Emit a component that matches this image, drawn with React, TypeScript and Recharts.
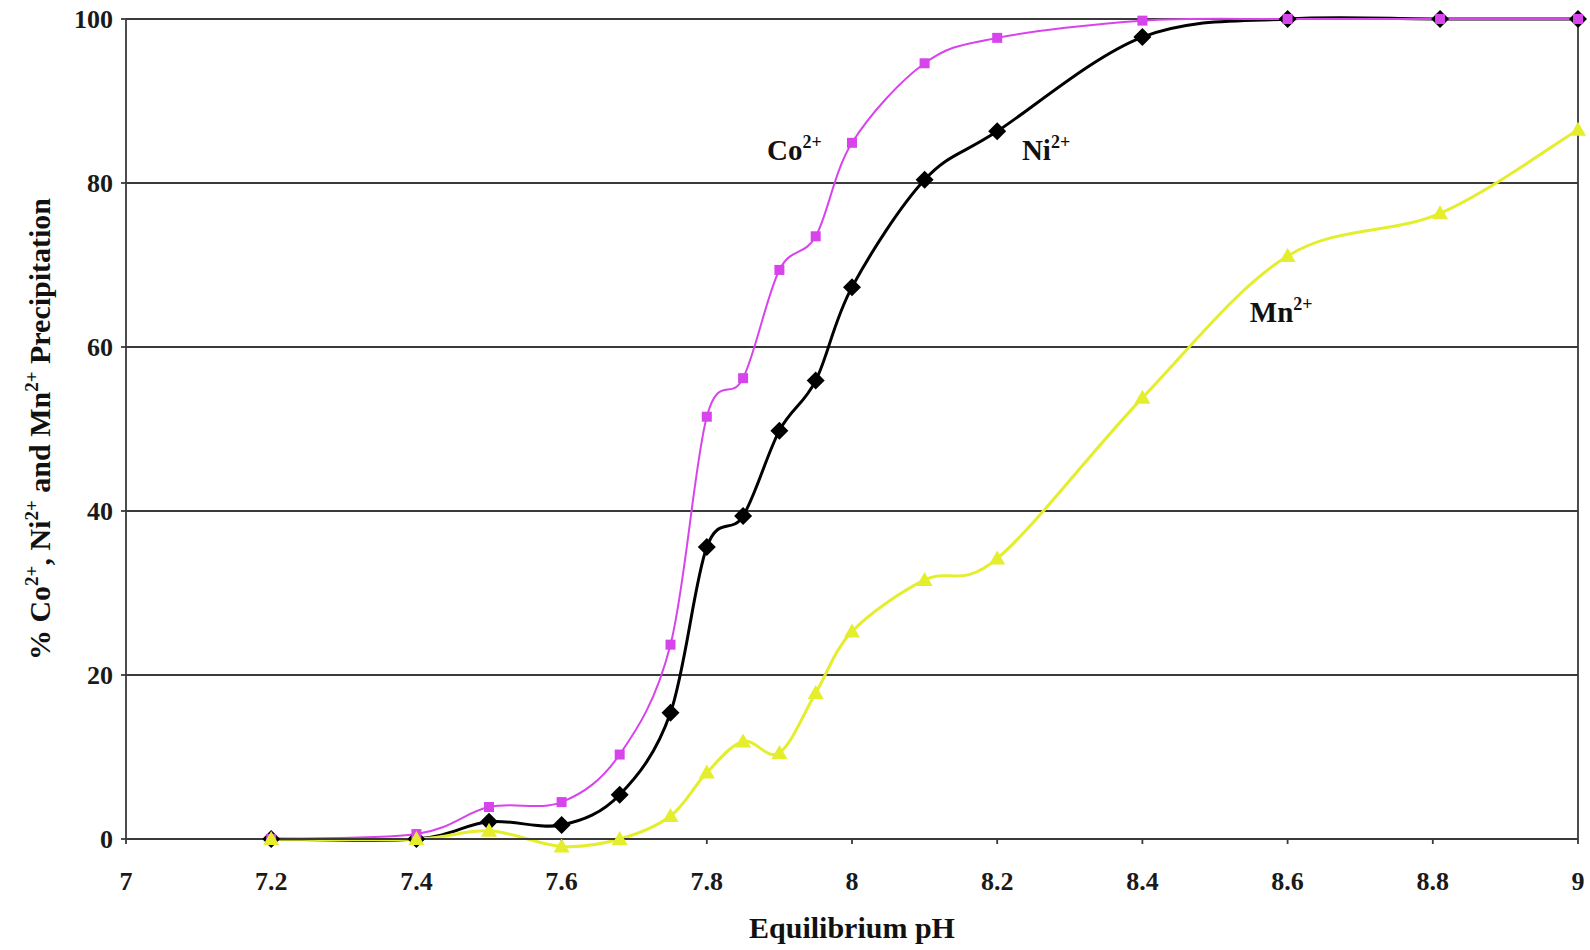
import React from 'react';
import {
  CartesianGrid,
  Line,
  LineChart,
  ReferenceDot,
  ReferenceLine,
  XAxis,
  YAxis,
} from 'recharts';

// equilibrium pH of each sample
const phValues = [7.2, 7.4, 7.5, 7.6, 7.68, 7.75, 7.8, 7.85, 7.9, 7.95, 8.0, 8.1, 8.2, 8.4, 8.6, 8.81, 9.0];
// % precipitation
const coValues = [0, 0.6, 3.9, 4.5, 10.3, 23.7, 51.5, 56.2, 69.4, 73.5, 84.9, 94.6, 97.7, 99.8, 100, 100, 100];
const niValues = [0, 0, 2.1, 1.7, 5.4, 15.4, 35.6, 39.4, 49.8, 55.9, 67.3, 80.4, 86.3, 97.8, 100, 100, 100];
const mnValues = [0, 0, 1.0, -0.9, 0, 2.8, 8.1, 11.9, 10.5, 17.8, 25.3, 31.6, 34.2, 53.8, 71.1, 76.3, 86.5];

const xTicks = [7, 7.2, 7.4, 7.6, 7.8, 8, 8.2, 8.4, 8.6, 8.8, 9];
const yTicks = [0, 20, 40, 60, 80, 100];

const data = phValues.map((ph, i) => ({
  ph,
  co: coValues[i],
  ni: niValues[i],
  mn: mnValues[i],
}));

const CO_COLOR = '#d844ec';
const NI_COLOR = '#000000';
const MN_COLOR = '#e4ee2c';
const AXIS_COLOR = '#3a3a3a';
const FONT = '"Liberation Serif", "Times New Roman", serif';

// smoothed line like the spreadsheet's "smoothed line" option
const smoothCurve = (context: any) => {
  let pts: number[][] = [];
  return {
    areaStart() {},
    areaEnd() {},
    lineStart() {
      pts = [];
    },
    point(x: number, y: number) {
      pts.push([+x, +y]);
    },
    lineEnd() {
      const n = pts.length;
      if (!n) return;
      context.moveTo(pts[0][0], pts[0][1]);
      for (let i = 0; i < n - 1; i++) {
        const p0 = pts[Math.max(i - 1, 0)];
        const p1 = pts[i];
        const p2 = pts[i + 1];
        const p3 = pts[Math.min(i + 2, n - 1)];
        context.bezierCurveTo(
          p1[0] + (p2[0] - p0[0]) / 6,
          p1[1] + (p2[1] - p0[1]) / 6,
          p2[0] - (p3[0] - p1[0]) / 6,
          p2[1] - (p3[1] - p1[1]) / 6,
          p2[0],
          p2[1],
        );
      }
    },
  };
};

const SquareDot = (props: any) => {
  const { cx, cy, index } = props;
  if (cx == null || cy == null) return null;
  return <rect key={`co-${index}`} x={cx - 5} y={cy - 5} width={10} height={10} fill={CO_COLOR} />;
};

const DiamondDot = (props: any) => {
  const { cx, cy, index } = props;
  if (cx == null || cy == null) return null;
  const r = 9;
  return (
    <path
      key={`ni-${index}`}
      d={`M${cx},${cy - r}L${cx + r},${cy}L${cx},${cy + r}L${cx - r},${cy}Z`}
      fill={NI_COLOR}
    />
  );
};

const TriangleDot = (props: any) => {
  const { cx, cy, index } = props;
  if (cx == null || cy == null) return null;
  return (
    <path
      key={`mn-${index}`}
      d={`M${cx},${cy - 8}L${cx + 8},${cy + 6}L${cx - 8},${cy + 6}Z`}
      fill={MN_COLOR}
    />
  );
};

const IonLabel = ({ viewBox, ion }: any) => {
  if (!viewBox) return null;
  return (
    <text x={viewBox.x} y={viewBox.y} fontFamily={FONT} fontWeight="bold" fontSize={29} fill="#111">
      {ion}
      <tspan dy={-12} fontSize={18}>2+</tspan>
    </text>
  );
};

const YTitle = ({ viewBox }: any) => {
  const cy = viewBox ? viewBox.y + viewBox.height / 2 : 429;
  const x = 50;
  return (
    <text
      x={x}
      y={cy}
      transform={`rotate(-90 ${x} ${cy})`}
      textAnchor="middle"
      fontFamily={FONT}
      fontWeight="bold"
      fontSize={30}
      fill="#111"
    >
      <tspan>% Co</tspan>
      <tspan dy={-12} fontSize={19}>2+</tspan>
      <tspan dy={12}>, Ni</tspan>
      <tspan dy={-12} fontSize={19}>2+</tspan>
      <tspan dy={12}> and Mn</tspan>
      <tspan dy={-12} fontSize={19}>2+</tspan>
      <tspan dy={12}> Precipitation</tspan>
    </text>
  );
};

const XTitle = ({ viewBox }: any) => {
  if (!viewBox) return null;
  return (
    <text
      x={viewBox.x + viewBox.width / 2}
      y={viewBox.y + 99}
      textAnchor="middle"
      fontFamily={FONT}
      fontWeight="bold"
      fontSize={30}
      fill="#111"
    >
      Equilibrium pH
    </text>
  );
};

const tickStyle = { fontFamily: FONT, fontWeight: 'bold', fontSize: 26, fill: '#1a1a1a' };

export default function App() {
  return (
    <div style={{ position: 'absolute', left: 0, top: 0, background: '#fff' }}>
      <style>{'.recharts-line, .recharts-line-curve, .recharts-line-dots { clip-path: none !important; }'}</style>
      <LineChart
        width={1590}
        height={950}
        data={data}
        margin={{ top: 19, right: 12, bottom: 0, left: 0 }}
      >
        <CartesianGrid horizontal vertical={false} stroke={AXIS_COLOR} strokeWidth={1.8} />
        <XAxis
          dataKey="ph"
          type="number"
          domain={[7, 9]}
          ticks={xTicks}
          allowDataOverflow
          height={111}
          tick={tickStyle}
          tickSize={5}
          tickMargin={28}
          stroke={AXIS_COLOR}
          strokeWidth={1.8}
          label={(p: any) => <XTitle {...p} />}
        />
        <YAxis
          type="number"
          domain={[0, 100]}
          ticks={yTicks}
          allowDataOverflow
          width={126}
          tick={tickStyle}
          tickSize={5}
          tickMargin={8}
          stroke={AXIS_COLOR}
          strokeWidth={1.8}
          label={(p: any) => <YTitle {...p} />}
        />
        <ReferenceLine x={9} stroke={AXIS_COLOR} strokeWidth={1.8} />
        <Line
          dataKey="ni"
          type={smoothCurve as any}
          stroke={NI_COLOR}
          strokeWidth={3}
          dot={DiamondDot}
          activeDot={false}
          isAnimationActive={false}
        />
        <Line
          dataKey="co"
          type={smoothCurve as any}
          stroke={CO_COLOR}
          strokeWidth={2}
          dot={SquareDot}
          activeDot={false}
          isAnimationActive={false}
        />
        <Line
          dataKey="mn"
          type={smoothCurve as any}
          stroke={MN_COLOR}
          strokeWidth={3}
          dot={TriangleDot}
          activeDot={false}
          isAnimationActive={false}
        />
        <ReferenceDot x={7.883} y={82.8} r={0} fill="none" stroke="none" label={(p: any) => <IonLabel {...p} ion="Co" />} />
        <ReferenceDot x={8.234} y={82.8} r={0} fill="none" stroke="none" label={(p: any) => <IonLabel {...p} ion="Ni" />} />
        <ReferenceDot x={8.548} y={63.0} r={0} fill="none" stroke="none" label={(p: any) => <IonLabel {...p} ion="Mn" />} />
      </LineChart>
    </div>
  );
}
